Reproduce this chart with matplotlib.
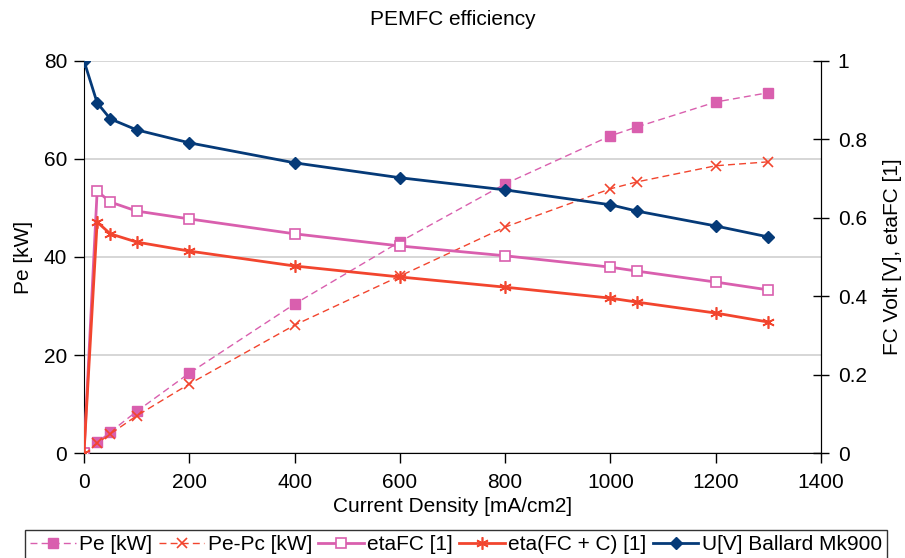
import numpy as np
import matplotlib
matplotlib.use('Agg')
import matplotlib.pyplot as plt

plt.rcParams['font.family'] = ['Liberation Sans', 'DejaVu Sans']

# current density [mA/cm2]
current = [0, 25, 50, 100, 200, 400, 600, 800, 1000, 1050, 1200, 1300]

# left axis [kW]
pe = [0, 2.2, 4.3, 8.5, 16.3, 30.4, 43.1, 54.9, 64.7, 66.5, 71.6, 73.5]
pe_pc = [0, 2.0, 3.9, 7.6, 14.1, 26.1, 36.1, 46.1, 53.9, 55.3, 58.6, 59.4]

# right axis
eta_fc = [0, 0.668, 0.640, 0.617, 0.597, 0.559, 0.528, 0.503, 0.474, 0.464, 0.436, 0.416]
eta_fcc = [0, 0.589, 0.559, 0.538, 0.515, 0.477, 0.449, 0.423, 0.395, 0.385, 0.357, 0.334]
u_volt = [1.0, 0.893, 0.852, 0.824, 0.791, 0.740, 0.702, 0.671, 0.633, 0.617, 0.579, 0.551]

pink = '#D95FAE'
red = '#F2452E'
navy = '#053A78'

fig = plt.figure(figsize=(9.05, 5.58), dpi=100)
ax = fig.add_axes([0.0928, 0.188, 0.8144, 0.703])
ax2 = ax.twinx()

l1, = ax.plot(current, pe, color=pink, ls=(0, (5, 3)), lw=1.0, marker='s', ms=7,
              label='Pe [kW]')
l2, = ax.plot(current, pe_pc, color=red, ls=(0, (5, 3)), lw=1.0, marker='x', ms=7,
              mew=1.2, label='Pe-Pc [kW]')
l3, = ax2.plot(current, eta_fc, color=pink, lw=2, marker='s', ms=7, mfc='white',
               mew=1.2, label='etaFC [1]')
l4, = ax2.plot(current, eta_fcc, color=red, lw=2, marker=(6, 2, 0), ms=9, mew=1.2,
               label='eta(FC + C) [1]')
l5, = ax2.plot(current, u_volt, color=navy, lw=2, marker='D', ms=6,
               label='U[V] Ballard Mk900')

ax.set_xlim(0, 1400)
ax.set_ylim(0, 80)
ax2.set_ylim(0, 1)
ax.set_xticks(np.arange(0, 1401, 200))
ax.set_yticks(np.arange(0, 81, 20))
ax2.set_yticks(np.arange(0, 1.01, 0.2))
ax2.set_yticklabels(['0', '0.2', '0.4', '0.6', '0.8', '1'])

ax.yaxis.grid(True, color='#d0d0d0', lw=1.2)
ax.set_axisbelow(True)
for a in (ax, ax2):
    a.spines['top'].set_visible(False)
ax.tick_params(labelsize=15, direction='out', length=7, width=1)
ax.tick_params(axis='x', pad=7)
ax.tick_params(axis='y', pad=5)
ax2.tick_params(labelsize=15, direction='inout', length=12, width=1, pad=6)
ax2.spines['left'].set_visible(False)
ax2.spines['bottom'].set_visible(False)

ax.set_xlabel('Current Density [mA/cm2]', fontsize=15, labelpad=4)
ax.set_ylabel('Pe [kW]', fontsize=15, labelpad=8)
ax2.set_ylabel('FC Volt [V], etaFC [1]', fontsize=15, labelpad=12)
ax.set_title('PEMFC efficiency', fontsize=15, pad=26)

leg = fig.legend(handles=[l1, l2, l3, l4, l5], loc='upper center',
                 bbox_to_anchor=(456 / 905, 1 - 530 / 558), ncol=5, fontsize=15,
                 frameon=True, fancybox=False, edgecolor='black',
                 handlelength=2.2, handletextpad=0.15, columnspacing=0.3,
                 borderpad=0.25, borderaxespad=0)
leg.get_frame().set_linewidth(1.0)

fig.savefig('out.png', dpi=100)
